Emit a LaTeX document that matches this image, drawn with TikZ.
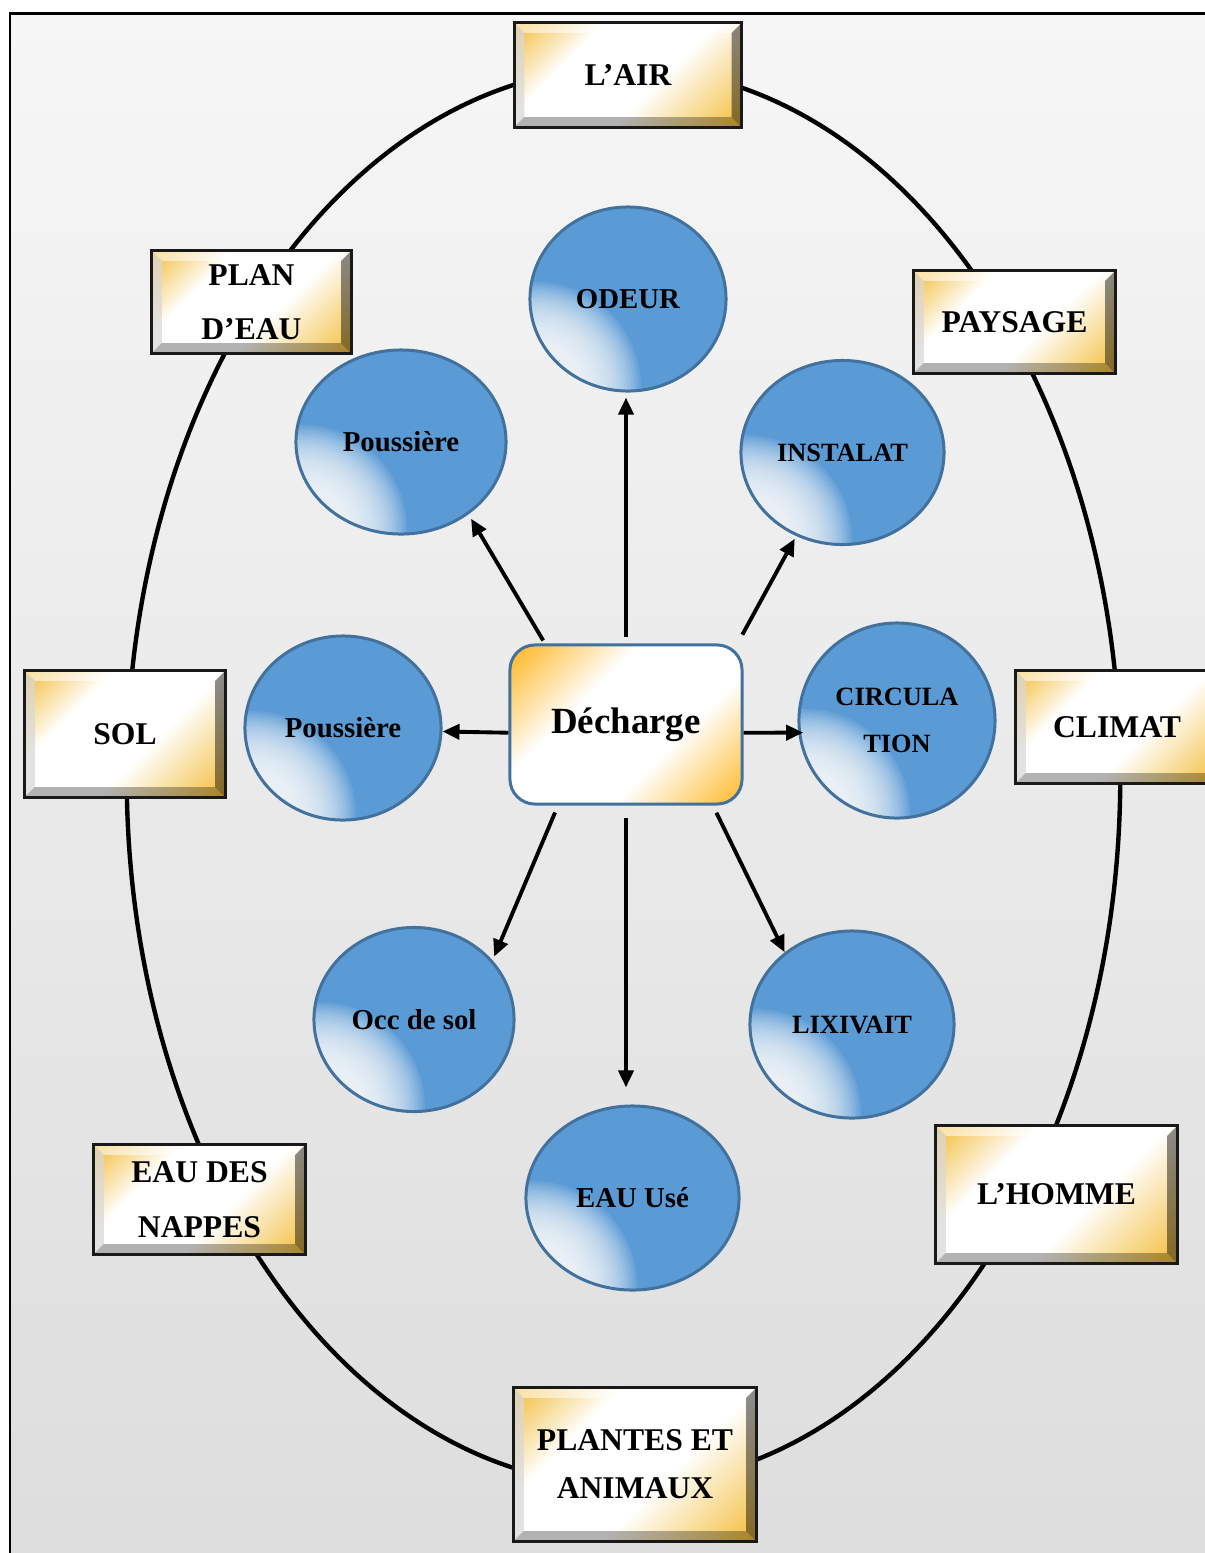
\documentclass[tikz,border=0pt]{standalone}
\usepackage{fontspec}
\setmainfont{Liberation Serif}
\usetikzlibrary{arrows.meta,shapes.geometric}

\definecolor{boxgold}{HTML}{F3C043}
\definecolor{dechgold}{HTML}{FFBF3C}
\definecolor{bubbleblue}{HTML}{5B9BD5}
\definecolor{bubbleedge}{HTML}{41719C}
\definecolor{bgtop}{HTML}{F6F6F6}
\definecolor{bgbottom}{HTML}{DDDDDD}

\pgfdeclarehorizontalshading{goldshade}{100bp}{color(0bp)=(boxgold); color(16bp)=(boxgold); color(34bp)=(white); color(58bp)=(white); color(84bp)=(boxgold); color(100bp)=(boxgold)}
\pgfdeclarehorizontalshading{dechshade}{100bp}{color(0bp)=(dechgold); color(18bp)=(dechgold); color(38bp)=(white); color(62bp)=(white); color(83bp)=(dechgold); color(100bp)=(dechgold)}

\newcommand{\bev}{0.1cm}
\newcommand{\gboxfont}{\fontsize{9}{15.5}\selectfont\bfseries}
\newcommand{\bubfont}{\fontsize{8.2}{13.4}\selectfont\bfseries}
\newcommand{\smallbubfont}{\fontsize{7.5}{13.4}\selectfont\bfseries}
\newcommand{\dechfont}{\fontsize{10.5}{12}\selectfont\bfseries}

\tikzset{
  goldbox/.style={rectangle, draw=black!90, line width=0.85pt, shade, shading=goldshade,
    shading angle=-45, align=center, inner sep=0pt, font=\gboxfont,
    path picture={
      \path (path picture bounding box.north west) coordinate (bnw)
            (path picture bounding box.north east) coordinate (bne)
            (path picture bounding box.south west) coordinate (bsw)
            (path picture bounding box.south east) coordinate (bse);
      % bevel edges
      \fill[white, opacity=.55] (bnw) -- (bne) -- ([shift={(-\bev,-\bev)}]bne) -- ([shift={(\bev,-\bev)}]bnw) -- cycle;
      \fill[white!85!black, opacity=.75] (bnw) -- (bsw) -- ([shift={(\bev,\bev)}]bsw) -- ([shift={(\bev,-\bev)}]bnw) -- cycle;
      \fill[black, opacity=.45] (bne) -- (bse) -- ([shift={(-\bev,\bev)}]bse) -- ([shift={(-\bev,-\bev)}]bne) -- cycle;
      \fill[black, opacity=.3] (bsw) -- (bse) -- ([shift={(-\bev,\bev)}]bse) -- ([shift={(\bev,\bev)}]bsw) -- cycle;
    }},
  bubble/.style={ellipse, draw=bubbleedge, line width=0.85pt, fill=bubbleblue,
    align=center, inner sep=0pt, font=\bubfont,
    path picture={
      % white spot at the lower left
      \foreach \r in {0.45,0.475,...,1.06}
        \fill[white, opacity=.085] ([shift={(0.06cm,0.04cm)}]path picture bounding box.south west) circle (\r cm);
    }},
  dechbox/.style={rectangle, rounded corners=0.25cm, draw=bubbleedge, line width=0.85pt,
    shade, shading=dechshade, shading angle=-45, inner sep=0pt, font=\dechfont},
  arr/.style={-{Triangle[length=0.17cm,width=0.15cm]}, line width=1.1pt},
}

\begin{document}
\begin{tikzpicture}[x=0.01cm, y=-0.01cm]

\useasboundingbox (0,0) rectangle (1205,1553);

% Draw the frame
\draw[line width=0.85pt, top color=bgtop, bottom color=bgbottom] (10,13) rectangle (1235,1585);

% Draw the big ring
\draw[line width=1.25pt] (623.5,776.4) ellipse [x radius=4.965cm, y radius=7.085cm];

% Draw the outer boxes
\node[goldbox, minimum width=2.27cm, minimum height=1.04cm] (air) at (628,75) {L’AIR};
\node[goldbox, minimum width=1.99cm, minimum height=1.02cm] (plan) at (251.5,302) {PLAN\\D’EAU};
\node[goldbox, minimum width=2.01cm, minimum height=1.02cm] (pays) at (1014.5,322) {PAYSAGE};
\node[goldbox, minimum width=2.00cm, minimum height=1.26cm] (sol) at (125,734) {SOL};
\node[goldbox, minimum width=2.02cm, minimum height=1.12cm] (climat) at (1117,727) {CLIMAT};
\node[goldbox, minimum width=2.11cm, minimum height=1.09cm] (nappes) at (199.5,1199.5) {EAU DES\\NAPPES};
\node[goldbox, minimum width=2.41cm, minimum height=1.37cm] (homme) at (1056.5,1194.5) {L’HOMME};
\node[goldbox, minimum width=2.42cm, minimum height=1.53cm] (plantes) at (635,1464.5) {PLANTES ET\\[-1.8pt]ANIMAUX};

% Draw the bubbles
\node[bubble, minimum width=1.96cm, minimum height=1.84cm] (odeur) at (628,299) {ODEUR};
\node[bubble, minimum width=2.10cm, minimum height=1.84cm] (pous1) at (401,442) {Poussière};
\node[bubble, minimum width=2.03cm, minimum height=1.84cm, font=\smallbubfont] (instal) at (842.5,452.5) {INSTALAT};
\node[bubble, minimum width=1.96cm, minimum height=1.84cm] (pous2) at (343,728) {Poussière};
\node[bubble, minimum width=1.96cm, minimum height=1.95cm, font=\smallbubfont] (circ) at (897,720.5) {CIRCULA\\TION};
\node[bubble, minimum width=2.00cm, minimum height=1.84cm] (occ) at (414,1019.5) {Occ de sol};
\node[bubble, minimum width=2.04cm, minimum height=1.87cm, font=\smallbubfont] (lixi) at (852,1024.5) {LIXIVAIT};
\node[bubble, minimum width=2.13cm, minimum height=1.84cm] (eau) at (632.5,1198) {EAU Usé};

% Draw the centre
\node[dechbox, minimum width=2.32cm, minimum height=1.59cm] (dech) at (626,724.5) {Décharge};

% Draw the arrows
\draw[arr, shorten <=0.06cm, shorten >=0.05cm] (dech.north) -- (dech.north |- odeur.south);
\draw[arr, shorten <=0.035cm, shorten >=0.05cm] (dech.135) -- (pous1.-47);
\draw[arr, shorten <=0.1cm, shorten >=0.03cm] (dech.36) -- (instal.-119);
\draw[arr] (dech.184) -- (pous2.-2);
\draw[arr, shorten >=-0.05cm] (dech.-4) -- (circ.187);
\draw[arr, shorten <=0.075cm, shorten >=0.04cm] (dech.230) -- (occ.37);
\draw[arr, shorten <=0.12cm, shorten >=0.17cm] (dech.south) -- (dech.south |- eau.north);
\draw[arr, shorten <=0.08cm] (dech.-43) -- (lixi.133);

\end{tikzpicture}
\end{document}
